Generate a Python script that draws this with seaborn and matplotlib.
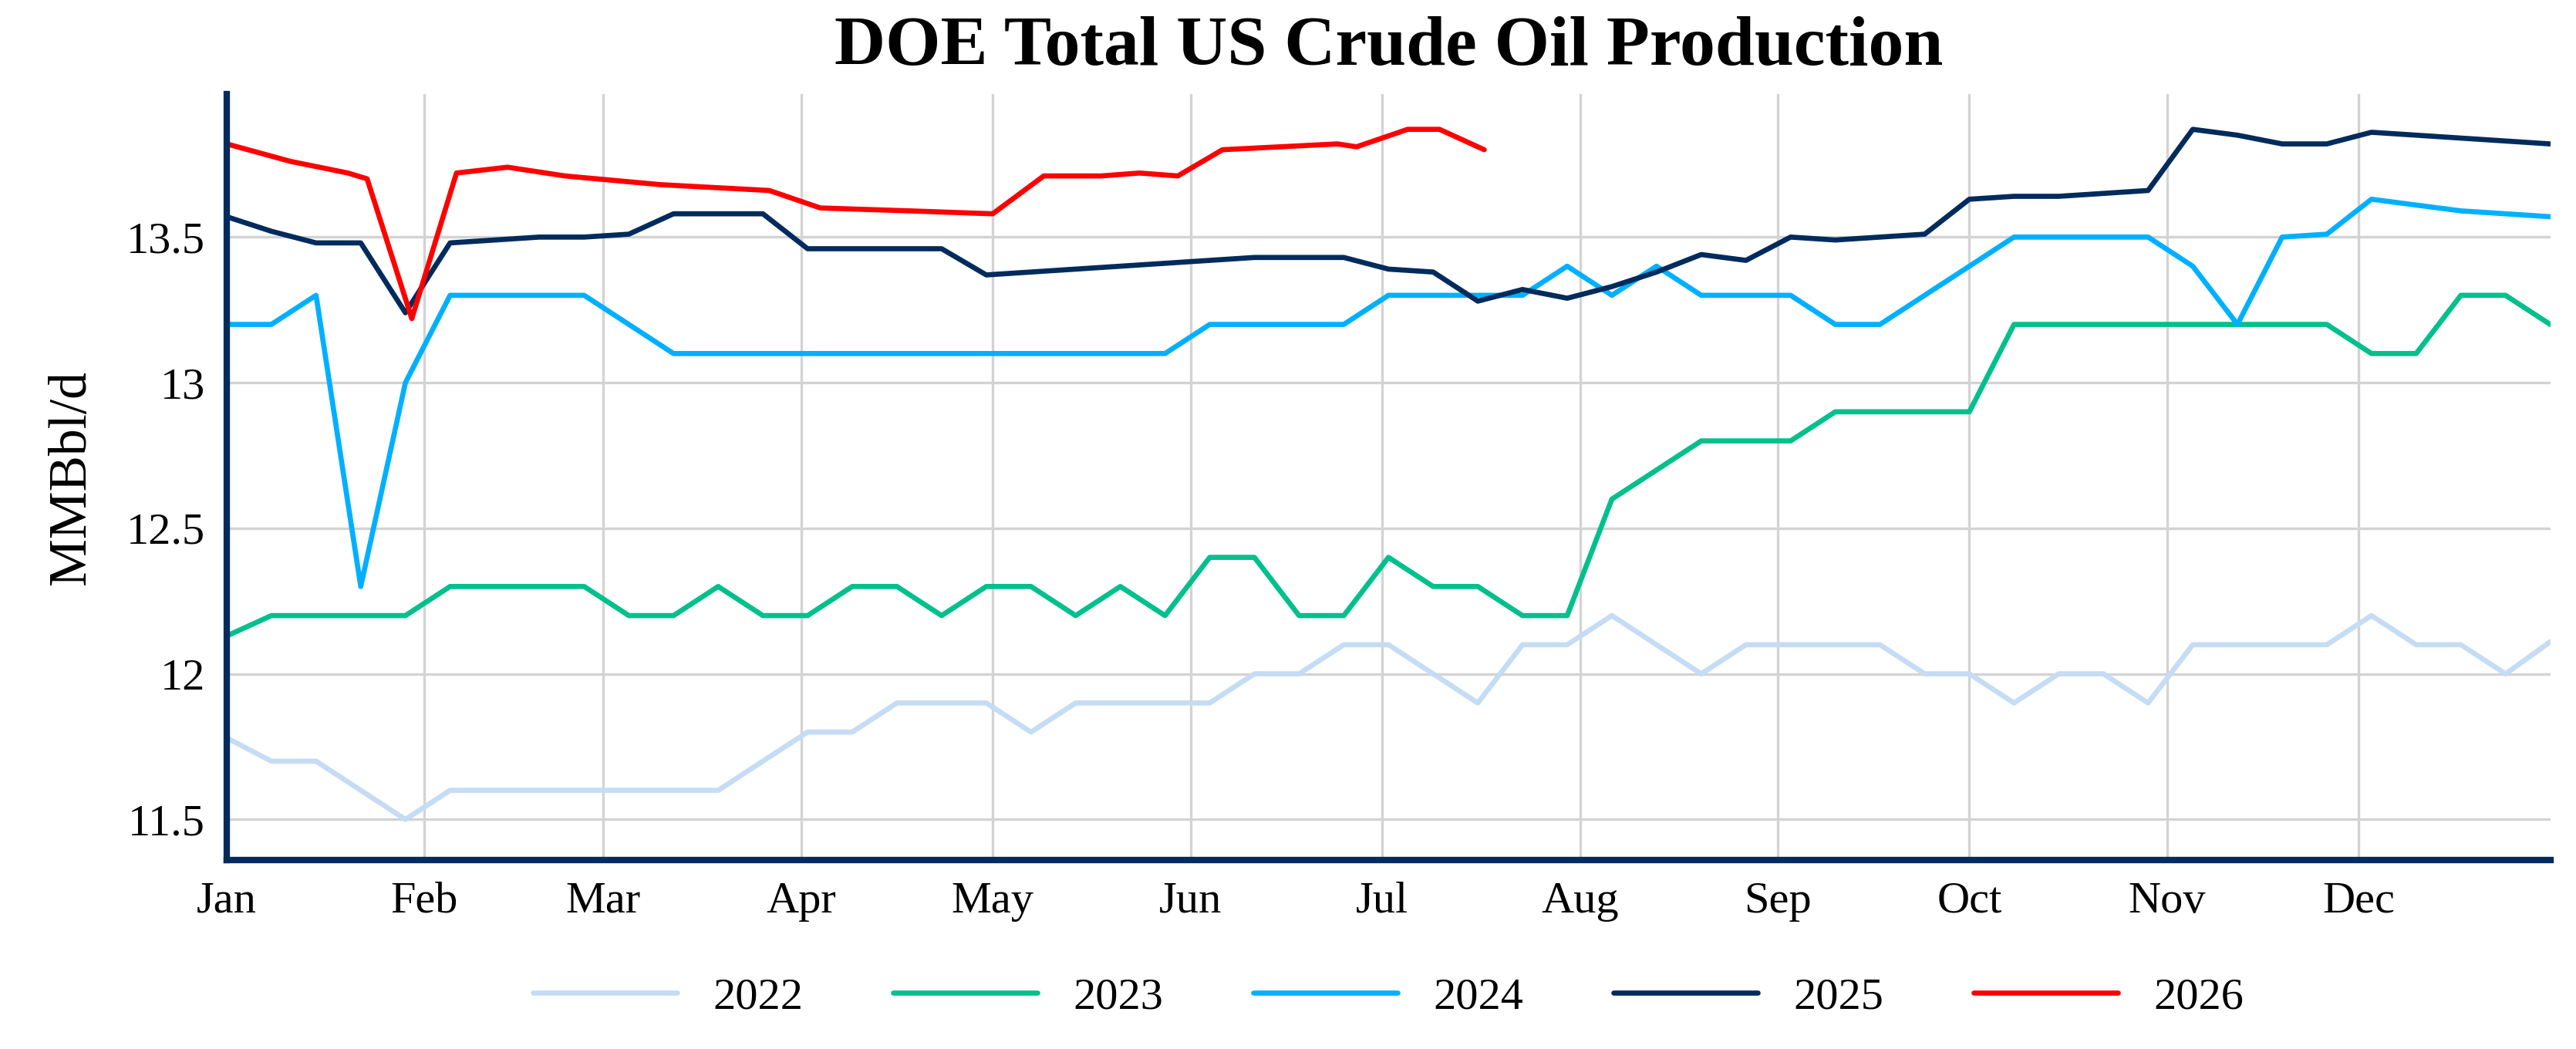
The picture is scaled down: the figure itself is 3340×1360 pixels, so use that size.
import numpy as np
import pandas as pd
import matplotlib
matplotlib.use('Agg')
import matplotlib.pyplot as plt
import seaborn as sns

# weekly readings (day-of-year = 7 * index)
y2022 = [11.78, 11.7, 11.7, 11.6, 11.5, 11.6, 11.6, 11.6, 11.6, 11.6, 11.6, 11.6, 11.7, 11.8,
         11.8, 11.9, 11.9, 11.9, 11.8, 11.9, 11.9, 11.9, 11.9, 12.0, 12.0, 12.1, 12.1, 12.0,
         11.9, 12.1, 12.1, 12.2, 12.1, 12.0, 12.1, 12.1, 12.1, 12.1, 12.0, 12.0, 11.9, 12.0,
         12.0, 11.9, 12.1, 12.1, 12.1, 12.1, 12.2, 12.1, 12.1, 12.0, 12.11]
y2023 = [12.13, 12.2, 12.2, 12.2, 12.2, 12.3, 12.3, 12.3, 12.3, 12.2, 12.2, 12.3, 12.2, 12.2,
         12.3, 12.3, 12.2, 12.3, 12.3, 12.2, 12.3, 12.2, 12.4, 12.4, 12.2, 12.2, 12.4, 12.3,
         12.3, 12.2, 12.2, 12.6, 12.7, 12.8, 12.8, 12.8, 12.9, 12.9, 12.9, 12.9, 13.2, 13.2,
         13.2, 13.2, 13.2, 13.2, 13.2, 13.2, 13.1, 13.1, 13.3, 13.3, 13.2]
y2024 = [13.2, 13.2, 13.3, 12.3, 13.0, 13.3, 13.3, 13.3, 13.3, 13.2, 13.1, 13.1, 13.1, 13.1,
         13.1, 13.1, 13.1, 13.1, 13.1, 13.1, 13.1, 13.1, 13.2, 13.2, 13.2, 13.2, 13.3, 13.3,
         13.3, 13.3, 13.4, 13.3, 13.4, 13.3, 13.3, 13.3, 13.2, 13.2, 13.3, 13.4, 13.5, 13.5,
         13.5, 13.5, 13.4, 13.2, 13.5, 13.51, 13.63, 13.61, 13.59, 13.58, 13.57]
y2025 = [13.57, 13.52, 13.48, 13.48, 13.24, 13.48, 13.49, 13.5, 13.5, 13.51, 13.58, 13.58,
         13.58, 13.46, 13.46, 13.46, 13.46, 13.37, 13.38, 13.39, 13.40, 13.41, 13.42, 13.43,
         13.43, 13.43, 13.39, 13.38, 13.28, 13.32, 13.29, 13.33, 13.38, 13.44, 13.42, 13.5,
         13.49, 13.5, 13.51, 13.63, 13.64, 13.64, 13.65, 13.66, 13.87, 13.85, 13.82, 13.82,
         13.86, 13.85, 13.84, 13.83, 13.82]
d2026 = [0, 10, 19, 22, 29, 36, 44, 53, 68, 85, 93, 107, 120, 128, 137, 143, 149, 156,
         174, 177, 185, 190, 197]
y2026 = [13.82, 13.76, 13.72, 13.70, 13.22, 13.72, 13.74, 13.71, 13.68, 13.66, 13.60, 13.59,
         13.58, 13.71, 13.71, 13.72, 13.71, 13.80, 13.82, 13.81, 13.87, 13.87, 13.80]

months = ['Jan', 'Feb', 'Mar', 'Apr', 'May', 'Jun', 'Jul', 'Aug', 'Sep', 'Oct', 'Nov', 'Dec']
month_start = [0, 31, 59, 90, 120, 151, 181, 212, 243, 273, 304, 334]

colors = {'2022': '#c5dcf5', '2023': '#00c08b', '2024': '#00b0ff', '2025': '#002b5c', '2026': '#ff0000'}

frames = []
for yr, vals in [('2022', y2022), ('2023', y2023), ('2024', y2024), ('2025', y2025)]:
    frames.append(pd.DataFrame({'day': np.arange(len(vals)) * 7, 'value': vals, 'year': yr}))
frames.append(pd.DataFrame({'day': d2026, 'value': y2026, 'year': '2026'}))
df = pd.concat(frames, ignore_index=True)

sns.set_style('white')
plt.rcParams['font.family'] = ['Liberation Serif', 'DejaVu Serif']
plt.rcParams['text.color'] = 'black'
plt.rcParams['xtick.color'] = 'black'
plt.rcParams['ytick.color'] = 'black'
plt.rcParams['axes.labelcolor'] = 'black'

fig, ax = plt.subplots(figsize=(16.7, 6.8), dpi=200)
sns.lineplot(data=df, x='day', y='value', hue='year', palette=colors, linewidth=2.4,
             estimator=None, sort=True, ax=ax)

ax.set_xlim(0, 364)
ax.set_ylim(11.36, 13.99)
ax.set_xticks(month_start)
ax.set_xticklabels(months, fontsize=21)
ax.set_yticks([11.5, 12, 12.5, 13, 13.5])
ax.set_yticklabels(['11.5', '12', '12.5', '13', '13.5'], fontsize=21)
ax.grid(True, color='#d3d3d3', linewidth=1.2)
ax.set_axisbelow(True)
ax.tick_params(length=0, pad=10)
for s in ['top', 'right']:
    ax.spines[s].set_visible(False)
for s in ['left', 'bottom']:
    ax.spines[s].set_color('#002b5c')
    ax.spines[s].set_linewidth(3)
ax.set_xlabel('')
ax.set_ylabel('MMBbl/d', fontsize=25, labelpad=14)
ax.set_title('DOE Total US Crude Oil Production', fontsize=33, fontweight='bold', pad=14)
ax.legend(loc='upper center', bbox_to_anchor=(0.5, -0.1), ncol=5, frameon=False,
          fontsize=21, handlelength=3.2)

plt.subplots_adjust(left=0.088, right=0.99, top=0.91, bottom=0.18)
plt.savefig('out.png', dpi=200)
plt.close()
